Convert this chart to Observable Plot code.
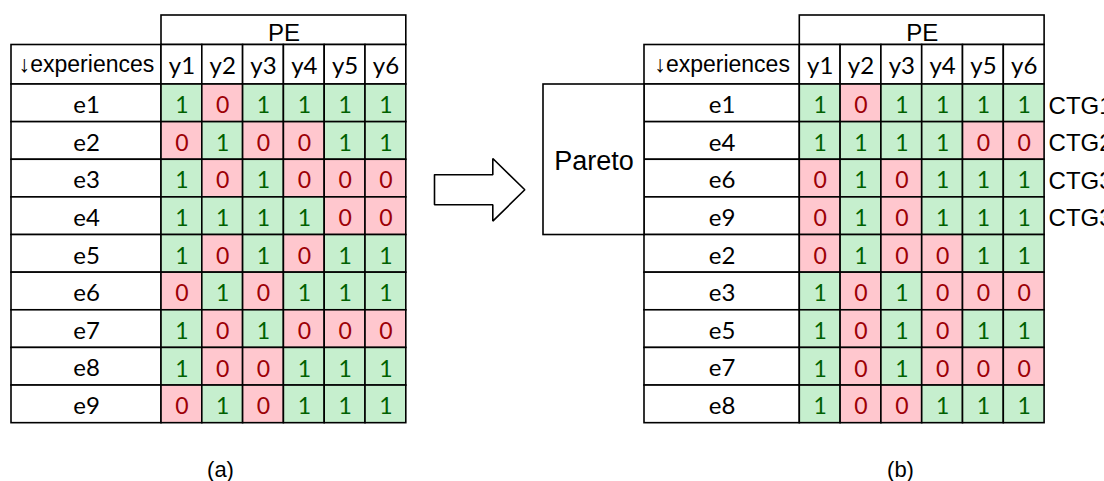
<!DOCTYPE html>
<html>
<head>
<meta charset="utf-8">
<script src="https://cdn.jsdelivr.net/npm/d3@7"></script>
<script src="https://cdn.jsdelivr.net/npm/@observablehq/plot@0.6"></script>
<style>
  html, body { margin: 0; padding: 0; background: #fff; }
  #chart svg { display: block; background: #fff; }
</style>
</head>
<body>
<div id="chart"></div>
<script>
// ---------- data ----------
const experiences = ["e1", "e2", "e3", "e4", "e5", "e6", "e7", "e8", "e9"];
const objectives = ["y1", "y2", "y3", "y4", "y5", "y6"];
const values = [
  [1, 0, 1, 1, 1, 1],
  [0, 1, 0, 0, 1, 1],
  [1, 0, 1, 0, 0, 0],
  [1, 1, 1, 1, 0, 0],
  [1, 0, 1, 0, 1, 1],
  [0, 1, 0, 1, 1, 1],
  [1, 0, 1, 0, 0, 0],
  [1, 0, 0, 1, 1, 1],
  [0, 1, 0, 1, 1, 1]
];
const paretoOrder = ["e1", "e4", "e6", "e9", "e2", "e3", "e5", "e7", "e8"];
const paretoCount = 4;
const ctgLabels = ["CTG1", "CTG2", "CTG3", "CTG3"];
const groupLabel = "PE";
const rowHeaderLabel = "\u2193experiences";
const paretoLabel = "Pareto";
const captions = ["(a)", "(b)"];

// ---------- layout (pixels) ----------
const L = {
  peTop: 15, headTop: 44.5, headBottom: 84, rowH: 37.63, colW: 40.8,
  tables: [
    {expX: 11, colX: 161, captionX: 220},
    {expX: 644, colX: 799.3, captionX: 900, paretoX: 543}
  ],
  captionY: 469
};
const rowTop = i => L.headBottom + i * L.rowH;
const colLeft = (t, j) => t.colX + j * L.colW;

const boxes = [];   // white bordered boxes
const cells = [];   // coloured value cells
const labels = [];  // texts
const tableRows = [experiences, paretoOrder];

L.tables.forEach((t, ti) => {
  const right = colLeft(t, objectives.length);
  boxes.push({x1: t.colX, x2: right, y1: L.peTop, y2: L.headTop});
  labels.push({x: (t.colX + right) / 2, y: (L.peTop + L.headTop) / 2 + 3, text: groupLabel, font: "sans", size: 24});
  boxes.push({x1: t.expX, x2: t.colX, y1: L.headTop, y2: L.headBottom});
  labels.push({x: (t.expX + t.colX) / 2, y: (L.headTop + L.headBottom) / 2, text: rowHeaderLabel, font: "sans", size: 23});
  objectives.forEach((o, j) => {
    boxes.push({x1: colLeft(t, j), x2: colLeft(t, j + 1), y1: L.headTop, y2: L.headBottom});
    labels.push({x: colLeft(t, j) + L.colW / 2, y: (L.headTop + L.headBottom) / 2 + 2, text: o, font: "num", size: 24});
  });
  tableRows[ti].forEach((e, i) => {
    const vals = values[experiences.indexOf(e)];
    boxes.push({x1: t.expX, x2: t.colX, y1: rowTop(i), y2: rowTop(i + 1)});
    labels.push({x: (t.expX + t.colX) / 2, y: rowTop(i) + L.rowH / 2 + 2, text: e, font: "num", size: 24});
    vals.forEach((v, j) => {
      cells.push({x1: colLeft(t, j), x2: colLeft(t, j + 1), y1: rowTop(i), y2: rowTop(i + 1), v});
      labels.push({x: colLeft(t, j) + L.colW / 2, y: rowTop(i) + L.rowH / 2 + 2.5, text: String(v), font: "num", size: 23, color: v ? "#006100" : "#9c0006"});
    });
  });
  labels.push({x: t.captionX, y: L.captionY, text: captions[ti], font: "sans", size: 22});
  if (t.paretoX !== undefined) {
    boxes.push({x1: t.paretoX, x2: t.expX, y1: L.headBottom, y2: rowTop(paretoCount)});
    labels.push({x: (t.paretoX + t.expX) / 2, y: (L.headBottom + rowTop(paretoCount)) / 2 + 2, text: paretoLabel, font: "sans", size: 27});
    ctgLabels.forEach((c, i) => {
      labels.push({x: right + 4, y: rowTop(i) + L.rowH / 2 + 2.5, text: c, font: "sans", size: 24, anchor: "start"});
    });
  }
});

// arrow between the two tables
const aL = 434, aHead = 492.3, aTip = 524.3, aMid = 189.3, shaftH = 15, headH = 31.3;
const arrow = [
  [aL, aMid - shaftH], [aHead, aMid - shaftH], [aHead, aMid - headH], [aTip, aMid],
  [aHead, aMid + headH], [aHead, aMid + shaftH], [aL, aMid + shaftH], [aL, aMid - shaftH]
].map(([x, y]) => ({x, y}));

const fonts = {sans: "'Liberation Sans', Arial, sans-serif", num: "Lato, 'Open Sans', sans-serif"};
const textMark = (font, size, anchor, color) => Plot.text(
  labels.filter(d => d.font === font && d.size === size && (d.anchor || "middle") === anchor && (d.color || "black") === color),
  {x: "x", y: "y", text: "text", fontFamily: fonts[font], fontSize: size, textAnchor: anchor, fill: color, lineAnchor: "middle"}
);
const combos = Array.from(new Set(labels.map(d => [d.font, d.size, d.anchor || "middle", d.color || "black"].join("|"))))
  .map(s => s.split("|"));

const chart = Plot.plot({
  width: 1104,
  height: 481,
  margin: 0,
  x: {type: "identity", axis: null},
  y: {type: "identity", axis: null},
  style: {background: "white"},
  marks: [
    Plot.rect(boxes, {x1: "x1", x2: "x2", y1: "y1", y2: "y2", fill: "white", stroke: "black", strokeWidth: 1.6}),
    Plot.rect(cells, {x1: "x1", x2: "x2", y1: "y1", y2: "y2", fill: d => d.v ? "#c6efce" : "#ffc7ce", stroke: "black", strokeWidth: 1.6}),
    Plot.line(arrow, {x: "x", y: "y", stroke: "black", strokeWidth: 1.6, fill: "white", strokeLinejoin: "miter"}),
    ...combos.map(([f, s, a, c]) => textMark(f, +s, a, c))
  ]
});
document.getElementById("chart").appendChild(chart);
</script>
</body>
</html>
